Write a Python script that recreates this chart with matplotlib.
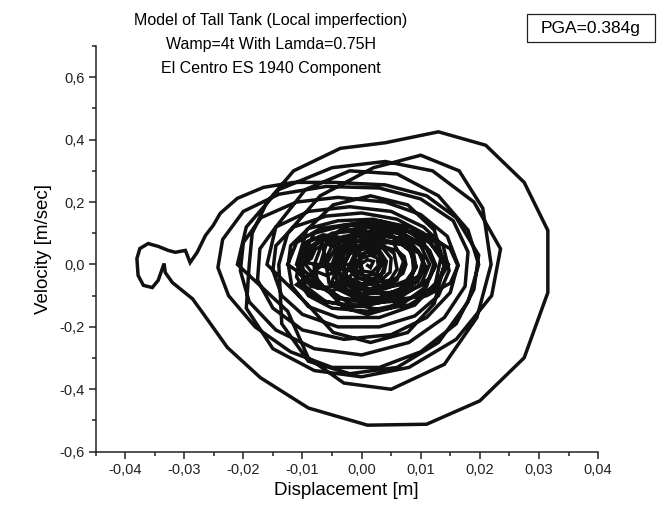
import matplotlib
matplotlib.use("Agg")
import matplotlib.pyplot as plt
from matplotlib import font_manager
from matplotlib.patches import Rectangle
from matplotlib.ticker import MultipleLocator, FuncFormatter

# ---------------- data (phase-plane trajectory) ----------------
# growth phase
grow_x = [0.0, -0.003, -0.002, 0.0005, 0.003, 0.004, 0.003, 0.0005, -0.002,
          -0.007, -0.0059, -0.003, 0.001, 0.005, 0.0079, 0.009, 0.0079, 0.005, 0.001, -0.003, -0.0059,
          -0.011, -0.0093, -0.0048, 0.0015, 0.0078, 0.0123, 0.014, 0.0123, 0.0078, 0.0015, -0.0048, -0.0093]
grow_y = [0.0, 0.0, 0.042, 0.06, 0.042, 0.0, -0.049, -0.07, -0.049,
          0.0, 0.07, 0.122, 0.14, 0.122, 0.07, 0.0, -0.08, -0.139, -0.16, -0.139, -0.08,
          0.0, 0.11, 0.191, 0.22, 0.191, 0.11, 0.0, -0.125, -0.218, -0.25, -0.218, -0.125]

# medium loops before the largest excursion
mid_x = [-0.016, -0.0145, -0.0095, -0.002, 0.006, 0.013, 0.018, 0.0198, 0.018, 0.013, 0.006, -0.002, -0.009, -0.0135,
         -0.014, -0.0125, -0.007, 0.002, 0.010, 0.0165, 0.0205, 0.0219, 0.0195, 0.014, 0.005, -0.003, -0.009, -0.0125,
         -0.021, -0.0195, -0.014, -0.005, 0.004, 0.012, 0.019, 0.0235, 0.022, 0.016, 0.008, 0.0, -0.008, -0.015, -0.0195]
mid_y = [0.0, 0.12, 0.24, 0.30, 0.29, 0.22, 0.11, 0.0, -0.12, -0.25, -0.33, -0.35, -0.31, -0.19,
         0.0, 0.10, 0.22, 0.31, 0.35, 0.30, 0.18, 0.0, -0.17, -0.32, -0.40, -0.38, -0.30, -0.15,
         0.0, 0.12, 0.24, 0.31, 0.33, 0.30, 0.20, 0.05, -0.10, -0.24, -0.33, -0.36, -0.34, -0.27, -0.14]

# largest excursion and the knob on the far left
big_x = [-0.019, -0.0185, -0.016, -0.0115, -0.0036, 0.004, 0.013, 0.021, 0.0275, 0.0315, 0.0315,
         0.0275, 0.020, 0.011, 0.001, -0.009, -0.0171, -0.0227, -0.0268, -0.0286,
         -0.0320, -0.0332, -0.0334, -0.0337, -0.0344, -0.0354, -0.0369, -0.0378, -0.0380, -0.0375,
         -0.0361, -0.0344, -0.0327, -0.0315, -0.0298, -0.0290, -0.0278, -0.0264, -0.0251]
big_y = [0.0, 0.10, 0.20, 0.30, 0.372, 0.39, 0.425, 0.382, 0.263, 0.109, -0.09,
         -0.299, -0.437, -0.512, -0.515, -0.46, -0.363, -0.266, -0.157, -0.11,
         -0.058, -0.026, 0.003, -0.013, -0.051, -0.074, -0.067, -0.035, 0.019, 0.051,
         0.067, 0.058, 0.045, 0.039, 0.045, 0.006, 0.039, 0.093, 0.125]

# decaying loops
d_x = [-0.0239, -0.021, -0.0166, -0.0115, -0.0047, 0.004, 0.011, 0.016, 0.0198, 0.019, 0.016, 0.010,
       0.003, -0.005, -0.012, -0.018, -0.0225, -0.0243,
       -0.0235, -0.020, -0.014, -0.006, 0.003, 0.010, 0.0155, 0.018, 0.0175, 0.014, 0.008, 0.0,
       -0.008, -0.0145, -0.019, -0.0205,
       -0.020, -0.017, -0.011, -0.004, 0.004, 0.010, 0.0145, 0.0163, 0.015, 0.011, 0.005, -0.003,
       -0.010, -0.015, -0.0176,
       -0.0172, -0.0145, -0.009, -0.002, 0.005, 0.0105, 0.0138, 0.0148, 0.013, 0.009, 0.003, -0.004,
       -0.010, -0.0135, -0.015,
       -0.0145, -0.0115, -0.006, 0.0, 0.006, 0.0105, 0.0134, 0.0125, 0.009, 0.003, -0.004, -0.009,
       -0.0118, -0.0124,
       -0.012, -0.009, -0.004, 0.002, 0.007, 0.0105, 0.0122, 0.011, 0.007, 0.001, -0.005, -0.009, -0.011]
d_y = [0.164, 0.212, 0.247, 0.263, 0.263, 0.255, 0.22, 0.15, 0.03, -0.08, -0.19, -0.28,
       -0.33, -0.33, -0.28, -0.20, -0.10, -0.01,
       0.08, 0.17, 0.225, 0.25, 0.245, 0.21, 0.14, 0.04, -0.07, -0.17, -0.25, -0.29,
       -0.27, -0.21, -0.12, -0.02,
       0.07, 0.15, 0.20, 0.215, 0.20, 0.16, 0.09, 0.0, -0.09, -0.17, -0.225, -0.24,
       -0.21, -0.14, -0.05,
       0.05, 0.12, 0.17, 0.185, 0.17, 0.12, 0.06, -0.02, -0.10, -0.165, -0.20, -0.20,
       -0.16, -0.10, -0.02,
       0.06, 0.12, 0.155, 0.165, 0.145, 0.10, 0.02, -0.06, -0.13, -0.17, -0.17, -0.135,
       -0.07, 0.0,
       0.06, 0.115, 0.14, 0.145, 0.12, 0.07, 0.0, -0.07, -0.125, -0.15, -0.14, -0.10, -0.04]

# small loops left of centre (around the hole near x=-0.006)
c_x = [-0.0105, -0.0095, -0.0065, -0.003, -0.0005, 0.0, -0.0015, -0.005, -0.0085, -0.0105,
       -0.0102, -0.009, -0.006, -0.0025, -0.001, -0.0015, -0.004, -0.0075, -0.0098, -0.0100,
       -0.0085, -0.0078, -0.0058, -0.0035, -0.003, -0.0038, -0.006, -0.008]
c_y = [0.02, 0.07, 0.095, 0.085, 0.045, -0.01, -0.06, -0.085, -0.07, -0.03,
       0.03, 0.075, 0.09, 0.075, 0.03, -0.03, -0.07, -0.075, -0.04, 0.0,
       0.02, 0.05, 0.065, 0.05, 0.015, -0.02, -0.035, -0.02]

# central loops with drifting centre
h_x = [-0.008, -0.0065, -0.002, 0.003, 0.008, 0.0125, 0.014, 0.0125, 0.008, 0.003, -0.002, -0.0065,
       -0.0095, -0.008, -0.004, 0.001, 0.006, 0.010, 0.0115, 0.010, 0.006, 0.001, -0.004, -0.008,
       -0.0125, -0.011, -0.007, -0.0017, 0.0035, 0.0078, 0.0092, 0.0078, 0.0035, -0.0017, -0.007, -0.011,
       -0.0065, -0.005, -0.001, 0.005, 0.011, 0.015, 0.0163, 0.015, 0.011, 0.005, -0.001, -0.005,
       -0.004, -0.003, 0.0, 0.004, 0.0085, 0.0115, 0.0125, 0.0115, 0.0085, 0.004, 0.0, -0.003,
       -0.002, -0.001, 0.0015, 0.0045, 0.0075, 0.0098, 0.0105, 0.0098, 0.0075, 0.0045, 0.0015, -0.001,
       -0.001, 0.0, 0.0018, 0.004, 0.006, 0.0072, 0.0075, 0.007, 0.0055, 0.0035, 0.0012, -0.0005]
h_y = [0.0, 0.075, 0.125, 0.14, 0.12, 0.07, -0.005, -0.08, -0.13, -0.145, -0.125, -0.07,
       0.0, 0.06, 0.105, 0.12, 0.105, 0.06, 0.0, -0.065, -0.11, -0.125, -0.105, -0.06,
       0.0, 0.07, 0.115, 0.13, 0.11, 0.06, -0.005, -0.07, -0.12, -0.135, -0.115, -0.065,
       0.0, 0.06, 0.10, 0.115, 0.095, 0.05, -0.005, -0.06, -0.10, -0.115, -0.10, -0.055,
       0.0, 0.05, 0.08, 0.09, 0.08, 0.045, 0.0, -0.045, -0.08, -0.092, -0.08, -0.045,
       0.0, 0.04, 0.065, 0.07, 0.062, 0.035, 0.0, -0.035, -0.062, -0.072, -0.062, -0.035,
       0.0, 0.03, 0.05, 0.055, 0.045, 0.025, 0.0, -0.028, -0.048, -0.055, -0.045, -0.025]

# late loops shifted to the right, then settling at the centre
e_x = [-0.0105, -0.008, -0.003, 0.003, 0.0075, 0.0105, 0.0095, 0.006, 0.0, -0.006, -0.0095, -0.0105,
       -0.0085, -0.005, 0.0, 0.005, 0.0085, 0.0088, 0.0065, 0.002, -0.004, -0.0075, -0.0078,
       -0.005, -0.0035, 0.001, 0.007, 0.0115, 0.0147, 0.0125, 0.0075, 0.001, -0.004,
       -0.0045, -0.003, 0.0015, 0.007, 0.011, 0.0125, 0.011, 0.006, 0.0005, -0.0035,
       -0.0038, -0.002, 0.002, 0.0065, 0.0095, 0.0108, 0.0095, 0.005, 0.0, -0.003,
       -0.003, -0.0015, 0.0025, 0.0065, 0.0088, 0.0092, 0.0078, 0.004, -0.0005, -0.0025,
       -0.006, -0.0065, -0.003, 0.002, 0.0055, 0.0071, 0.006, 0.0025, -0.002, -0.0055, -0.006,
       -0.0045, -0.001, 0.003, 0.0055, 0.006, 0.0045, 0.001, -0.0025, -0.004,
       -0.0032, 0.0, 0.0035, 0.005, 0.0048, 0.003, 0.0, -0.0025, -0.003,
       -0.002, 0.0005, 0.003, 0.0042, 0.0038, 0.0018, -0.0008, -0.002,
       -0.0012, 0.001, 0.003, 0.0034, 0.0025, 0.0005, -0.001,
       0.0, 0.0015, 0.0027, 0.0028, 0.0018, 0.0003, -0.0003, 0.001, 0.002, 0.0015, 0.0008]
e_y = [0.01, 0.10, 0.125, 0.125, 0.09, 0.02, -0.05, -0.11, -0.135, -0.12, -0.07, -0.01,
       0.06, 0.10, 0.11, 0.09, 0.04, -0.02, -0.08, -0.115, -0.11, -0.06, 0.0,
       0.0, 0.08, 0.12, 0.115, 0.07, 0.0, -0.07, -0.115, -0.125, -0.08,
       0.0, 0.07, 0.105, 0.10, 0.055, -0.005, -0.06, -0.10, -0.11, -0.07,
       0.0, 0.065, 0.095, 0.085, 0.045, -0.005, -0.055, -0.09, -0.095, -0.06,
       0.0, 0.055, 0.08, 0.07, 0.035, -0.01, -0.05, -0.078, -0.08, -0.045,
       0.0, 0.06, 0.09, 0.095, 0.065, 0.01, -0.05, -0.09, -0.095, -0.06, 0.0,
       0.05, 0.075, 0.07, 0.035, -0.015, -0.06, -0.08, -0.065, -0.02,
       0.04, 0.062, 0.055, 0.02, -0.025, -0.055, -0.062, -0.04, 0.0,
       0.035, 0.05, 0.045, 0.01, -0.025, -0.048, -0.045, -0.015,
       0.025, 0.04, 0.032, 0.0, -0.03, -0.038, -0.02,
       0.02, 0.03, 0.02, -0.005, -0.025, -0.022, 0.0, 0.015, 0.01, -0.01, 0.0]

x_ticks = [-0.04, -0.03, -0.02, -0.01, 0.00, 0.01, 0.02, 0.03, 0.04]
y_ticks = [-0.6, -0.4, -0.2, 0.0, 0.2, 0.4, 0.6]
title_lines = ["Model of Tall Tank (Local imperfection)",
               "Wamp=4t With Lamda=0.75H",
               "El Centro ES 1940 Component"]
pga_text = "PGA=0.384g"

# ---------------- style ----------------
names = {f.name for f in font_manager.fontManager.ttflist}
fam = "Liberation Sans Narrow" if "Liberation Sans Narrow" in names else "Liberation Sans"
plt.rcParams["font.family"] = [fam, "DejaVu Sans"]

W, H = 667, 513
fig = plt.figure(figsize=(W / 100, H / 100), dpi=100)
ax = fig.add_axes([0.1432, 0.1195, 0.7535, 0.7908])

xs = grow_x + mid_x + big_x + d_x + c_x + h_x + e_x
ys = grow_y + mid_y + big_y + d_y + c_y + h_y + e_y
ax.plot(xs, ys, color="#111111", lw=2.5, solid_joinstyle="miter", solid_capstyle="butt")

ax.set_xlim(-0.045, 0.04)
ax.set_ylim(-0.6, 0.7)
ax.spines["top"].set_visible(False)
ax.spines["right"].set_visible(False)
for s in ("left", "bottom"):
    ax.spines[s].set_linewidth(1.1)
    ax.spines[s].set_color("#222222")

ax.set_xticks(x_ticks)
ax.set_yticks(y_ticks)
ax.xaxis.set_minor_locator(MultipleLocator(0.005))
ax.yaxis.set_minor_locator(MultipleLocator(0.1))
ax.xaxis.set_major_formatter(FuncFormatter(lambda v, p: f"{v:.2f}".replace(".", ",").replace("-0,00", "0,00")))
ax.yaxis.set_major_formatter(FuncFormatter(lambda v, p: f"{v:.1f}".replace(".", ",").replace("-0,0", "0,0")))
ax.tick_params(which="major", direction="out", length=5, width=1.1, labelsize=10.5, pad=3, colors="#222222")
ax.tick_params(which="minor", direction="out", length=3, width=1.1, colors="#222222")

ax.set_xlabel("Displacement [m]", fontsize=13.5, labelpad=4)
ax.set_ylabel("Velocity [m/sec]", fontsize=13.5, labelpad=5)

for i, line in enumerate(title_lines):
    fig.text(271 / W, 1 - (21 + 24 * i) / H, line, ha="center", va="center", fontsize=11.5)

fig.patches.append(Rectangle((527 / W, 1 - 42 / H), 128 / W, 28 / H, transform=fig.transFigure,
                             fill=False, ec="#222222", lw=0.9))
fig.text(591 / W, 1 - 28 / H, pga_text, ha="center", va="center", fontsize=12.5)

fig.savefig("out.png", dpi=100)
